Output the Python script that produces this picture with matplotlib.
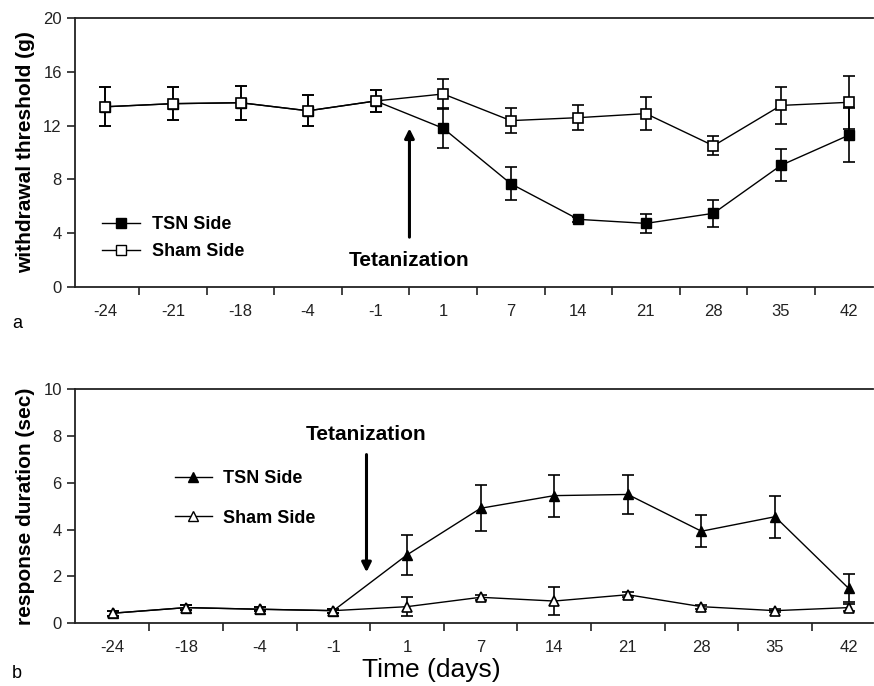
import matplotlib
matplotlib.use("Agg")
import matplotlib.pyplot as plt
from matplotlib.lines import Line2D

plt.rcParams['font.family'] = ['Liberation Sans', 'DejaVu Sans']

# ---- Panel a data ----
days_a = ["-24", "-21", "-18", "-4", "-1", "1", "7", "14", "21", "28", "35", "42"]
sham_a = [13.4, 13.63, 13.7, 13.1, 13.83, 14.35, 12.37, 12.59, 12.89, 10.5, 13.5, 13.73]
sham_a_err = [1.45, 1.25, 1.27, 1.15, 0.85, 1.1, 0.93, 0.93, 1.2, 0.7, 1.4, 1.95]
tsn_a = [13.4, 13.63, 13.7, 13.1, 13.83, 11.8, 7.68, 5.03, 4.73, 5.48, 9.05, 11.28]
tsn_a_err = [1.45, 1.25, 1.27, 1.15, 0.85, 1.5, 1.24, 0.2, 0.72, 1.0, 1.2, 2.0]

# ---- Panel b data ----
days_b = ["-24", "-18", "-4", "-1", "1", "7", "14", "21", "28", "35", "42"]
sham_b = [0.43, 0.67, 0.6, 0.54, 0.71, 1.11, 0.95, 1.22, 0.71, 0.54, 0.67]
sham_b_err = [0.1, 0.1, 0.08, 0.08, 0.4, 0.1, 0.58, 0.1, 0.08, 0.05, 0.15]
tsn_b = [0.43, 0.67, 0.6, 0.54, 2.92, 4.91, 5.45, 5.5, 3.93, 4.55, 1.49]
tsn_b_err = [0.1, 0.1, 0.08, 0.08, 0.86, 0.98, 0.9, 0.85, 0.68, 0.9, 0.6]

fig = plt.figure(figsize=(8.74, 6.86), dpi=100)
axa = fig.add_axes([0.0858, 0.5816, 0.913, 0.3922])
axb = fig.add_axes([0.0858, 0.0914, 0.913, 0.3415])

ekw = dict(ecolor='black', elinewidth=1.2, capsize=4.3, capthick=1.2, color='black', lw=1.0)

def style(ax):
    for s in ['top', 'left', 'bottom']:
        ax.spines[s].set_linewidth(1.3)
        ax.spines[s].set_color('#222222')
    ax.spines['right'].set_visible(False)
    ax.tick_params(axis='both', direction='out', length=6, width=1.2, labelsize=12,
                   colors='#222222')
    ax.tick_params(axis='x', which='major', length=0, pad=12)
    ax.tick_params(axis='x', which='minor', direction='out', length=6, width=1.2,
                   colors='#222222')

# Panel a
xa = list(range(len(days_a)))
axa.errorbar(xa, tsn_a, yerr=tsn_a_err, marker='s', ms=7, mfc='black', mec='black',
             zorder=2, **ekw)
axa.errorbar(xa, sham_a, yerr=sham_a_err, marker='s', ms=7, mfc='white', mec='black',
             mew=1.2, zorder=3, **ekw)
axa.set_xlim(-0.45, 11.36)
axa.set_ylim(0, 20)
axa.set_yticks([0, 4, 8, 12, 16, 20])
axa.set_xticks(xa)
axa.set_xticklabels(days_a)
axa.set_xticks([i + 0.5 for i in range(len(days_a) - 1)], minor=True)
style(axa)
axa.set_ylabel("withdrawal threshold (g)", fontsize=15, fontweight='bold', labelpad=6)
axa.annotate("", xy=(4.5, 12.0), xytext=(4.5, 3.5),
             arrowprops=dict(arrowstyle='-|>', lw=2.2, color='black', mutation_scale=14))
axa.text(4.5, 2.0, "Tetanization", ha='center', va='center', fontsize=15, fontweight='bold')
h1 = Line2D([], [], color='black', lw=1.0, marker='s', ms=7, mfc='black', mec='black')
h2 = Line2D([], [], color='black', lw=1.0, marker='s', ms=7, mfc='white', mec='black')
axa.legend([h1, h2], ["TSN Side", "Sham Side"], loc='center left',
           bbox_to_anchor=(0.0338, 0.182), frameon=False, borderpad=0, borderaxespad=0,
           handlelength=2.1, handletextpad=0.67, labelspacing=0.53,
           prop=dict(size=13, weight='bold'))

# Panel b
xb = list(range(len(days_b)))
axb.errorbar(xb, tsn_b, yerr=tsn_b_err, marker='^', ms=7.5, mfc='black', mec='black',
             zorder=2, **ekw)
axb.errorbar(xb, sham_b, yerr=sham_b_err, marker='^', ms=7.5, mfc='white', mec='black',
             mew=1.2, zorder=3, **ekw)
axb.set_xlim(-0.51, 10.33)
axb.set_ylim(0, 10)
axb.set_yticks([0, 2, 4, 6, 8, 10])
axb.set_xticks(xb)
axb.set_xticklabels(days_b)
axb.set_xticks([i + 0.5 for i in range(len(days_b) - 1)], minor=True)
style(axb)
axb.set_ylabel("response duration (sec)", fontsize=15, fontweight='bold', labelpad=6)
axb.annotate("", xy=(3.45, 2.06), xytext=(3.45, 7.32),
             arrowprops=dict(arrowstyle='-|>', lw=2.2, color='black', mutation_scale=14))
axb.text(3.45, 8.08, "Tetanization", ha='center', va='center', fontsize=15, fontweight='bold')
h3 = Line2D([], [], color='black', lw=1.0, marker='^', ms=7.5, mfc='black', mec='black')
h4 = Line2D([], [], color='black', lw=1.0, marker='^', ms=7.5, mfc='white', mec='black')
axb.legend([h3, h4], ["TSN Side", "Sham Side"], loc='center left',
           bbox_to_anchor=(0.125, 0.533), frameon=False, borderpad=0, borderaxespad=0,
           handlelength=2.05, handletextpad=0.6, labelspacing=1.23,
           prop=dict(size=13, weight='bold'))
axb.set_xlabel("Time (days)", fontsize=19, va='center')
axb.xaxis.set_label_coords((431 - 75) / 798, -46.7 / 234.3)

fig.text(12 / 874, 1 - 323 / 686, "a", fontsize=13, ha='left', va='center')
fig.text(12 / 874, 1 - 673 / 686, "b", fontsize=13, ha='left', va='center')

fig.savefig("out.png", dpi=100)
